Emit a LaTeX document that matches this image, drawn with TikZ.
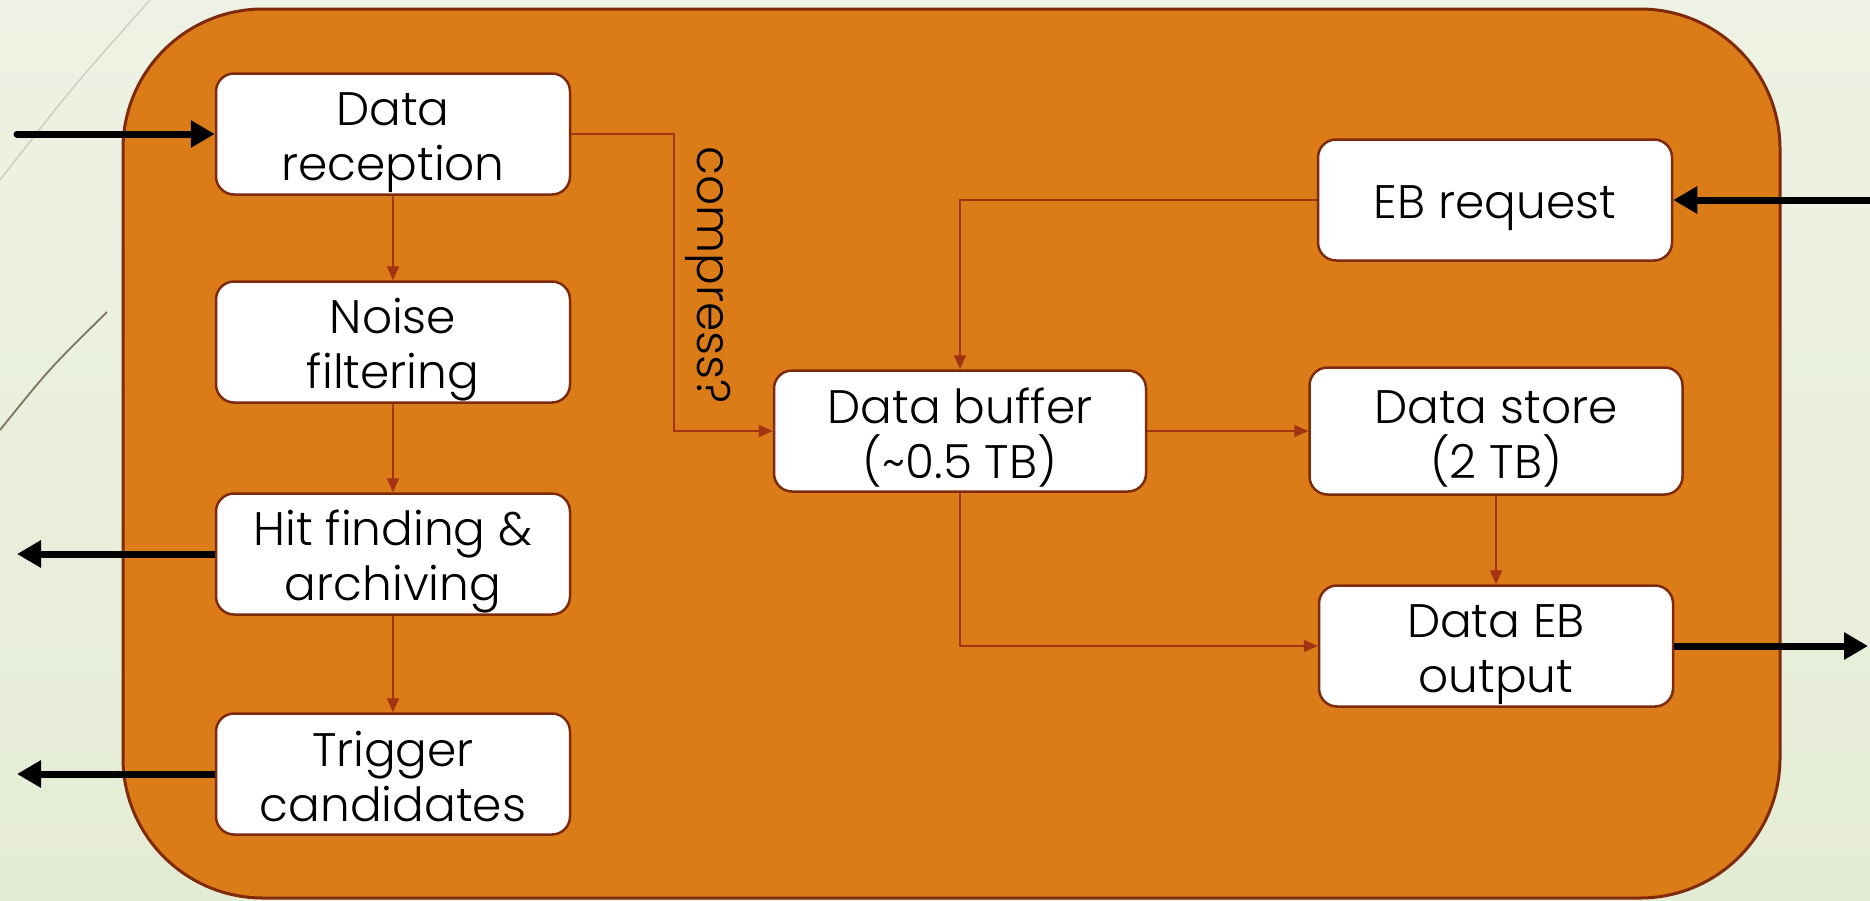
\documentclass[tikz,border=0pt]{standalone}
\usepackage{fontspec}
\setmainfont{Poppins}[UprightFont=* Light]
\usetikzlibrary{arrows.meta}
\definecolor{bgtop}{HTML}{EEF2E4}
\definecolor{bgbottom}{HTML}{E5ECD5}
\definecolor{panel}{HTML}{DC7C19}
\definecolor{boxedge}{HTML}{7F2B0B}
\definecolor{flowline}{HTML}{A33412}
\definecolor{decolight}{HTML}{CDD0C0}
\definecolor{decodark}{HTML}{7C7660}
% struts that give every box label the same vertical extent
\newcommand\hiStrut{\rule{0pt}{50pt}}
\newcommand\loStrut{\rule[-10pt]{0pt}{10pt}}
\begin{document}
\begin{tikzpicture}[x=1pt,y=-1pt,
  stage/.style={draw=boxedge, line width=2.5pt, fill=white, rounded corners=18pt,
    minimum width=354pt, minimum height=121pt, inner sep=0pt, align=center,
    font=\fontsize{47}{55}\selectfont},
  flow/.style={draw=flowline, line width=2pt, -{Triangle[length=14pt,width=12pt]}},
  io/.style={draw=black, line width=7pt, -{Triangle[length=24pt,width=26pt]}}]
\useasboundingbox (0,0) rectangle (1870,900);
% backdrop
\shade[top color=bgtop, bottom color=bgbottom] (0,0) rectangle (1870,900);
\draw[decolight, line width=1.5pt] (0,180) .. controls (70,90) .. (150,0);
\draw[decodark, line width=1.8pt] (0,430) .. controls (50,368) .. (107,312);
% module frame
\draw[boxedge, line width=3pt, fill=panel, rounded corners=140pt] (123,9) rectangle (1780,898);

% processing chain
\node[stage] (recv)  at (393,134) {\hiStrut Data\\reception\loStrut};
\node[stage] (noise) at (393,342) {\hiStrut Noise\\filtering\loStrut};
\node[stage] (hits)  at (393,554) {\hiStrut Hit finding \&\\archiving\loStrut};
\node[stage] (trig)  at (393,774) {\hiStrut Trigger\\candidates\loStrut};

% storage and event building
\node[stage] (ebreq) at (1495,200) {\hiStrut EB request\loStrut};
\node[stage, minimum width=372pt] (buffer) at (960,431) {\hiStrut Data buffer\\(\char"7E 0.5 TB)\loStrut};
\node[stage, minimum width=373pt, minimum height=127pt] (store) at (1496,431) {\hiStrut Data store\\(2 TB)\loStrut};
\node[stage] (ebout) at (1496,646) {\hiStrut Data EB\\output\loStrut};

\node[rotate=-90, font=\fontsize{47}{55}\selectfont] (cmp) at (708,275) {compress?};

% internal flows
\draw[flow] (recv.south) -- (noise.north);
\draw[flow] (noise.south) -- (hits.north);
\draw[flow] (hits.south) -- (trig.north);
\draw[flow] (recv.east) -- ++(103,0) |- (buffer.west);
\draw[flow] (ebreq.west) -| (buffer.north);
\draw[flow] (buffer.east) -- (store.west);
\draw[flow] (store.south) -- (ebout.north);
\draw[flow] (buffer.south) |- (ebout.west);

% external links
\coordinate (inRaw) at (17,134);
\coordinate (outHits) at (17,554);
\coordinate (outTrig) at (17,774);
\coordinate (inReq) at (1872,200);
\coordinate (outEB) at (1868,646);
\draw[io, line cap=round] (inRaw) -- (recv.west);
\draw[io] (hits.west) -- (outHits);
\draw[io] (trig.west) -- (outTrig);
\draw[io] (inReq) -- (ebreq.east);
\draw[io] (ebout.east) -- (outEB);
\end{tikzpicture}
\end{document}
